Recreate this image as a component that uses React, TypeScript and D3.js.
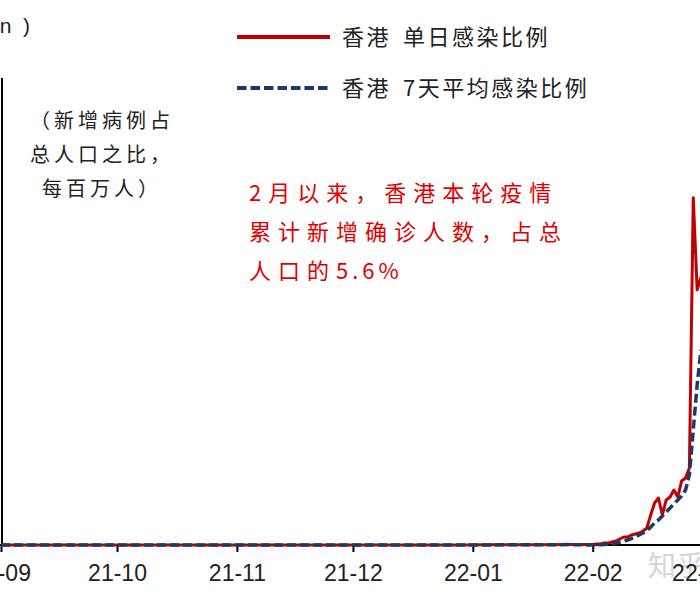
import React, { useEffect, useRef } from 'react';
import * as d3 from 'd3';

// weekly points until end of January, daily from February on
const dates = [
  '2021-09-01', '2021-09-08', '2021-09-15', '2021-09-22', '2021-09-29',
  '2021-10-06', '2021-10-13', '2021-10-20', '2021-10-27',
  '2021-11-03', '2021-11-10', '2021-11-17', '2021-11-24',
  '2021-12-01', '2021-12-08', '2021-12-15', '2021-12-22', '2021-12-29',
  '2022-01-05', '2022-01-12', '2022-01-19', '2022-01-26',
  '2022-02-01', '2022-02-02', '2022-02-03', '2022-02-04', '2022-02-05',
  '2022-02-06', '2022-02-07', '2022-02-08', '2022-02-09', '2022-02-10',
  '2022-02-11', '2022-02-12', '2022-02-13', '2022-02-14', '2022-02-15',
  '2022-02-16', '2022-02-17', '2022-02-18', '2022-02-19', '2022-02-20',
  '2022-02-21', '2022-02-22', '2022-02-23', '2022-02-24', '2022-02-25',
  '2022-02-26', '2022-02-27', '2022-02-28', '2022-03-01',
];

const dailyRatio = [
  0.3, 0.2, 0.4, 0.3, 0.2,
  0.3, 0.4, 0.2, 0.3,
  0.3, 0.4, 0.2, 0.3,
  0.5, 0.4, 0.6, 0.5, 0.8,
  2, 4, 5, 8,
  8, 15, 15, 30, 30,
  45, 60, 90, 120, 120,
  150, 165, 180, 210, 255,
  450, 630, 705, 450, 675,
  720, 825, 720, 960, 1005,
  1155, 5205, 3825, 4020,
];

const weeklyAvgRatio = [
  0.3, 0.3, 0.3, 0.3, 0.3,
  0.3, 0.3, 0.3, 0.3,
  0.3, 0.3, 0.3, 0.3,
  0.4, 0.5, 0.5, 0.6, 0.7,
  1.5, 3, 4, 6,
  0, 3, 5, 8, 10,
  15, 25, 45, 60, 75,
  95, 120, 150, 180, 210,
  270, 330, 375, 435, 495,
  555, 615, 675, 735, 825,
  1050, 1725, 2400, 2925,
];

const legendLabels = ['香港 单日感染比例', '香港 7天平均感染比例'];
const noteLines = ['（新增病例占', '总人口之比，', '每百万人）'];
const calloutLines = ['2月以来，香港本轮疫情', '累计新增确诊人数，占总', '人口的|5.6%'];
const unitLabel = '(per million  )';

const width = 700;
const height = 600;

interface Row {
  date: Date;
  daily: number;
  avg: number;
}

const cjk = '"Noto Sans CJK SC", "Noto Sans", sans-serif';
const latin = '"Liberation Sans", Arial, sans-serif';

export default function App() {
  const ref = useRef<SVGSVGElement>(null);

  useEffect(() => {
    const svg = d3.select(ref.current);
    svg.selectAll('*').remove();

    const parse = d3.timeParse('%Y-%m-%d');
    const rows: Row[] = dates.map((d, i) => ({
      date: parse(d)!,
      daily: dailyRatio[i],
      avg: weeklyAvgRatio[i],
    }));

    const x = d3
      .scaleTime()
      .domain([parse('2021-09-01')!, parse('2022-03-01')!])
      .range([1, 701]);
    const y = d3.scaleLinear().domain([0, 7000]).range([545, 78]);

    svg.append('rect').attr('width', width).attr('height', height).attr('fill', '#fff');

    // watermark
    svg
      .append('text')
      .attr('x', 648)
      .attr('y', 576)
      .style('font-family', cjk)
      .style('font-size', '28px')
      .attr('fill', '#d6d6d6')
      .text('知乎');

    // axes
    const xAxis = d3
      .axisBottom<Date>(x)
      .ticks(d3.timeMonth.every(1)!)
      .tickFormat(d3.timeFormat('%y-%m'))
      .tickSize(7)
      .tickSizeOuter(0)
      .tickPadding(13);

    const gx = svg.append('g').attr('transform', `translate(0,${y(0)})`).call(xAxis);
    gx.select('.domain').remove();
    gx.selectAll('line').attr('stroke', '#000').attr('stroke-width', 2);
    gx.selectAll('text')
      .style('font-family', latin)
      .style('font-size', '23px')
      .attr('fill', '#222');

    svg
      .append('line')
      .attr('x1', 0)
      .attr('x2', width)
      .attr('y1', y(0))
      .attr('y2', y(0))
      .attr('stroke', '#000')
      .attr('stroke-width', 2);

    svg
      .append('line')
      .attr('x1', 2)
      .attr('x2', 2)
      .attr('y1', y(7000))
      .attr('y2', y(0))
      .attr('stroke', '#000')
      .attr('stroke-width', 2);

    // series
    const dailyLine = d3
      .line<Row>()
      .x((d) => x(d.date))
      .y((d) => y(d.daily));
    const avgLine = d3
      .line<Row>()
      .x((d) => x(d.date))
      .y((d) => y(d.avg));

    svg
      .append('path')
      .datum(rows)
      .attr('d', dailyLine)
      .attr('fill', 'none')
      .attr('stroke', '#c00000')
      .attr('stroke-width', 3)
      .attr('stroke-linejoin', 'round');

    svg
      .append('path')
      .datum(rows)
      .attr('d', avgLine)
      .attr('fill', 'none')
      .attr('stroke', '#1f3864')
      .attr('stroke-width', 3.5)
      .attr('stroke-dasharray', '9,4');

    // legend
    const legendY = [37, 88];
    legendLabels.forEach((label, i) => {
      svg
        .append('line')
        .attr('x1', 237)
        .attr('x2', 330)
        .attr('y1', legendY[i])
        .attr('y2', legendY[i])
        .attr('stroke', i === 0 ? '#c00000' : '#1f3864')
        .attr('stroke-width', 4)
        .attr('stroke-dasharray', i === 0 ? null : '9.5,4');
      const [place, name] = label.split(' ');
      const t = svg
        .append('text')
        .attr('x', 342)
        .attr('y', legendY[i] + 8)
        .style('font-family', cjk)
        .style('font-size', '22px')
        .style('letter-spacing', '2.5px')
        .attr('fill', '#222');
      t.append('tspan').text(place);
      t.append('tspan').attr('dx', 12).text(name);
    });

    // unit label, cut by the left edge
    svg
      .append('text')
      .attr('x', 30)
      .attr('y', 33)
      .attr('text-anchor', 'end')
      .style('font-family', latin)
      .style('font-size', '21px')
      .style('white-space', 'pre')
      .attr('fill', '#222')
      .text(unitLabel);

    // note under the axis title
    noteLines.forEach((line, i) => {
      svg
        .append('text')
        .attr('x', 102)
        .attr('y', 128 + i * 34)
        .attr('text-anchor', 'middle')
        .style('font-family', cjk)
        .style('font-size', '20px')
        .style('letter-spacing', '4px')
        .attr('fill', '#222')
        .text(line);
    });

    // red callout
    calloutLines.forEach((line, i) => {
      const [head, tail] = line.split('|');
      const t = svg
        .append('text')
        .attr('x', 249)
        .attr('y', 201 + i * 39)
        .style('font-family', cjk)
        .style('font-size', '22px')
        .style('letter-spacing', '7px')
        .attr('fill', '#e00000');
      t.append('tspan').text(head);
      if (tail) t.append('tspan').style('letter-spacing', '4px').text(tail);
    });
  }, []);

  return (
    <svg
      ref={ref}
      width={width}
      height={height}
      style={{ position: 'absolute', left: 0, top: 0 }}
    />
  );
}
